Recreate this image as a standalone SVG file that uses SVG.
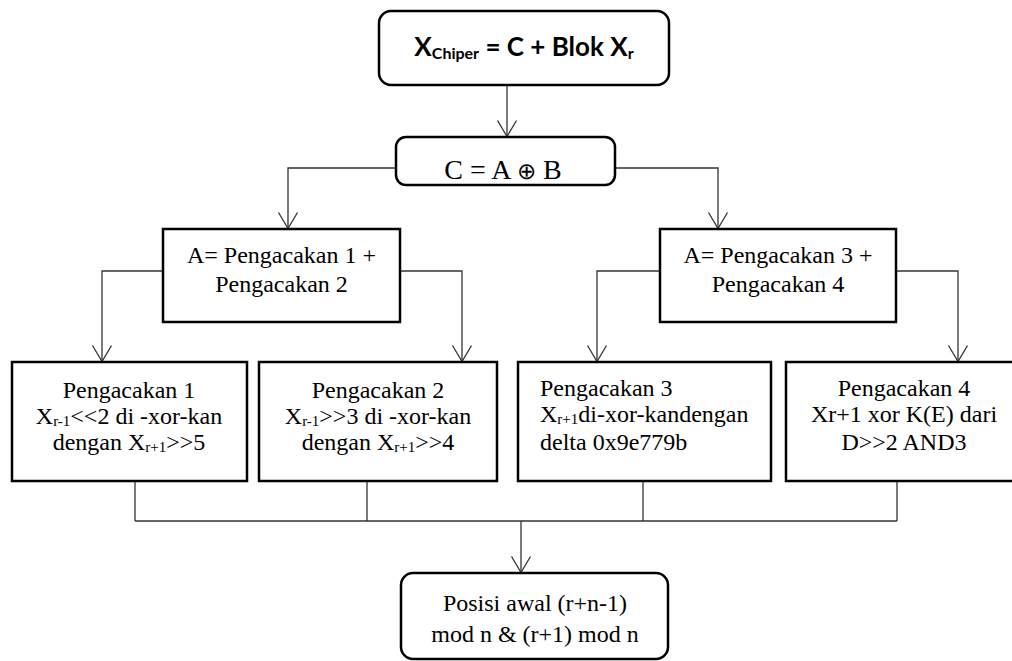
<svg xmlns="http://www.w3.org/2000/svg" width="1012" height="661" viewBox="0 0 1012 661">
<style>
.box{fill:#fff;stroke:#000;stroke-width:2.5}
.t{font-family:'Liberation Serif','Times New Roman',Times,serif;font-size:24px;fill:#000}
.c{text-anchor:middle}
.sub{font-size:15px}
.conn{fill:none;stroke:#333;stroke-width:1.3}
.hd{font-family:Lato,'Liberation Sans',sans-serif;font-weight:bold;font-size:26px;fill:#000;text-anchor:middle}
</style>
<defs>
<marker id="arr" markerUnits="userSpaceOnUse" markerWidth="20" markerHeight="22" viewBox="-17 -11 19 22" refX="0" refY="0" orient="auto" overflow="visible">
<path d="M-16,-9.5 L0,0 L-16,9.5" fill="none" stroke="#333" stroke-width="1.3"/>
</marker>
</defs>
<g id="connectors" class="conn">
<path d="M507,85 V136.5" marker-end="url(#arr)"/>
<path d="M396,168 H288 V228.5" marker-end="url(#arr)"/>
<path d="M615,168 H718 V228.5" marker-end="url(#arr)"/>
<path d="M163,271 H102 V361.5" marker-end="url(#arr)"/>
<path d="M400,271 H462 V361.5" marker-end="url(#arr)"/>
<path d="M660,271 H597 V361.5" marker-end="url(#arr)"/>
<path d="M896,271 H958 V361.5" marker-end="url(#arr)"/>
<path d="M135,481 V521 M367,481 V521 M643,481 V521 M897,481 V521 M135,521 H897"/>
<path d="M521,521 V572.5" marker-end="url(#arr)"/>
</g>
<g id="node-xchiper">
<rect class="box" x="379" y="11" width="290" height="74" rx="12"/>
<text class="hd" x="524" y="56">X<tspan style="font-size:16px" dy="3">Chiper</tspan><tspan dy="-3"> = C + Blok X</tspan><tspan style="font-size:16px" dy="3">r</tspan></text>
</g>
<g id="node-c">
<rect class="box" x="396" y="137" width="219" height="48" rx="10"/>
<text class="t c" x="503" y="179" style="font-size:28px">C = A <tspan style="font-size:23px">⊕</tspan> B</text>
</g>
<g id="node-a-left">
<rect class="box" x="163" y="229" width="237" height="93"/>
<text class="t c" x="281.5" y="263">A= Pengacakan 1 +</text>
<text class="t c" x="281.5" y="292">Pengacakan 2</text>
</g>
<g id="node-a-right">
<rect class="box" x="660" y="229" width="236" height="93"/>
<text class="t c" x="778" y="263">A= Pengacakan 3 +</text>
<text class="t c" x="778" y="292">Pengacakan 4</text>
</g>
<g id="node-p1">
<rect class="box" x="12" y="362" width="235" height="119"/>
<text class="t c" x="129" y="398">Pengacakan 1</text>
<text class="t c" x="129" y="424">X<tspan class="sub" dy="2">r-1</tspan><tspan dy="-2">&lt;&lt;2 di -xor-kan</tspan></text>
<text class="t c" x="129" y="450">dengan X<tspan class="sub" dy="2">r+1</tspan><tspan dy="-2">&gt;&gt;5</tspan></text>
</g>
<g id="node-p2">
<rect class="box" x="259" y="362" width="238" height="119"/>
<text class="t c" x="378" y="398">Pengacakan 2</text>
<text class="t c" x="378" y="424">X<tspan class="sub" dy="2">r-1</tspan><tspan dy="-2">&gt;&gt;3 di -xor-kan</tspan></text>
<text class="t c" x="378" y="450">dengan X<tspan class="sub" dy="2">r+1</tspan><tspan dy="-2">&gt;&gt;4</tspan></text>
</g>
<g id="node-p3">
<rect class="box" x="518" y="362" width="253" height="119"/>
<text class="t" x="540" y="396">Pengacakan 3</text>
<text class="t" x="540" y="422">X<tspan class="sub" dy="2">r+1</tspan><tspan dy="-2">di-xor-kandengan</tspan></text>
<text class="t" x="540" y="450">delta 0x9e779b</text>
</g>
<g id="node-p4">
<rect class="box" x="786" y="362" width="236" height="119"/>
<text class="t c" x="904" y="396">Pengacakan 4</text>
<text class="t c" x="904" y="422">Xr+1 xor K(E) dari</text>
<text class="t c" x="904" y="450">D&gt;&gt;2 AND3</text>
</g>
<g id="node-posisi">
<rect class="box" x="401" y="573" width="267" height="86" rx="12"/>
<text class="t c" x="535" y="611">Posisi awal (r+n-1)</text>
<text class="t c" x="535" y="642">mod n &amp; (r+1) mod n</text>
</g>
</svg>
